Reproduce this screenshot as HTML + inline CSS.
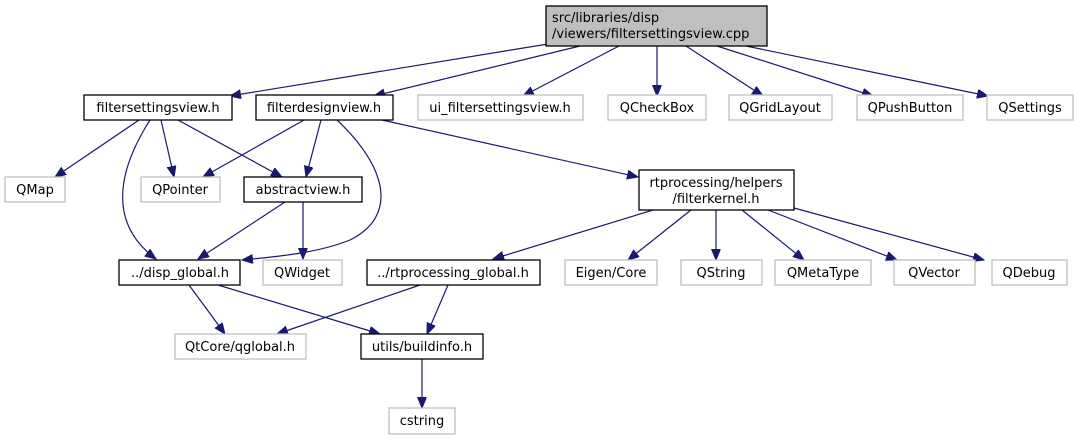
<!DOCTYPE html>
<html><head><meta charset="utf-8"><style>
html,body{margin:0;padding:0;background:#fff;}
svg{display:block;}
text{font-family:"DejaVu Sans","Liberation Sans",sans-serif;font-size:13px;fill:#000;}
.d{fill:#fff;stroke:#000;stroke-width:1.3;}
.g{fill:#fff;stroke:#bfbfbf;stroke-width:1.3;}
.e{fill:none;stroke:#191970;stroke-width:1.2;}
</style></head><body>
<svg width="1078" height="440" viewBox="0 0 1078 440" xmlns="http://www.w3.org/2000/svg">
<defs>
<marker id="a" markerWidth="12" markerHeight="10" refX="11" refY="4.5" orient="auto" markerUnits="userSpaceOnUse">
<path d="M0,0 L11,4.5 L0,9 Z" fill="#191970" stroke="#191970"/>
</marker>
</defs>
<g marker-end="url(#a)" class="e">
<path class="e" d="M548,44 L230,96"/>
<path class="e" d="M580,46 L374,96"/>
<path class="e" d="M619,46 L523,96"/>
<path class="e" d="M657,46 L657,96"/>
<path class="e" d="M686,46 L763,96"/>
<path class="e" d="M717,46 L873,96"/>
<path class="e" d="M746,46 L988,96"/>
<path class="e" d="M139,120 L55,177"/>
<path class="e" d="M150,120 C115,175 110,225 156,259"/>
<path class="e" d="M161,120 L174,177"/>
<path class="e" d="M178,120 L282,177"/>
<path class="e" d="M304,120 L203,177"/>
<path class="e" d="M321,120 L306,177"/>
<path class="e" d="M337,120 C385,165 400,215 350,240 C320,252 285,256 242,260"/>
<path class="e" d="M382,120 L638,177"/>
<path class="e" d="M285,202 L198,259"/>
<path class="e" d="M303,202 L303,259"/>
<path class="e" d="M653,210 L493,259"/>
<path class="e" d="M691,210 L628,260"/>
<path class="e" d="M716,210 L716,260"/>
<path class="e" d="M742,210 L804,260"/>
<path class="e" d="M768,210 L897,260"/>
<path class="e" d="M794,208 L984,260"/>
<path class="e" d="M189,285 L225,334"/>
<path class="e" d="M218,285 L380,334"/>
<path class="e" d="M420,285 L277,334"/>
<path class="e" d="M448,285 L427,334"/>
<path class="e" d="M422,359 L422,408"/>
</g>
<rect x="546" y="6" width="221" height="40" fill="#bfbfbf" stroke="#000" stroke-width="1.3"/>
<text x="552" y="22">src/libraries/disp</text>
<text x="552" y="38">/viewers/filtersettingsview.cpp</text>

<g text-anchor="middle">
<rect class="d" x="84" y="95" width="148" height="25"/><text x="158" y="112">filtersettingsview.h</text>
<rect class="d" x="256" y="95" width="137" height="25"/><text x="324" y="112">filterdesignview.h</text>
<rect class="g" x="418" y="95" width="165" height="25"/><text x="500" y="112">ui_filtersettingsview.h</text>
<rect class="g" x="608" y="95" width="98" height="25"/><text x="657" y="112">QCheckBox</text>
<rect class="g" x="729" y="95" width="103" height="25"/><text x="780" y="112">QGridLayout</text>
<rect class="g" x="857" y="95" width="106" height="25"/><text x="910" y="112">QPushButton</text>
<rect class="g" x="987" y="95" width="86" height="25"/><text x="1030" y="112">QSettings</text>

<rect class="g" x="5" y="177" width="60" height="25"/><text x="35" y="194">QMap</text>
<rect class="g" x="141" y="177" width="79" height="25"/><text x="180" y="194">QPointer</text>
<rect class="d" x="244" y="177" width="118" height="25"/><text x="303" y="194">abstractview.h</text>
<rect class="d" x="639" y="170" width="155" height="40"/><text x="716" y="187">rtprocessing/helpers</text><text x="716" y="203">/filterkernel.h</text>

<rect class="d" x="119" y="260" width="121" height="25"/><text x="180" y="277">../disp_global.h</text>
<rect class="g" x="263" y="260" width="79" height="25"/><text x="302" y="277">QWidget</text>
<rect class="d" x="367" y="260" width="173" height="25"/><text x="453" y="277">../rtprocessing_global.h</text>
<rect class="g" x="565" y="260" width="92" height="25"/><text x="611" y="277">Eigen/Core</text>
<rect class="g" x="681" y="260" width="81" height="25"/><text x="721" y="277">QString</text>
<rect class="g" x="775" y="260" width="96" height="25"/><text x="823" y="277">QMetaType</text>
<rect class="g" x="894" y="260" width="81" height="25"/><text x="934" y="277">QVector</text>
<rect class="g" x="992" y="260" width="75" height="25"/><text x="1029" y="277">QDebug</text>

<rect class="g" x="175" y="334" width="131" height="25"/><text x="240" y="351">QtCore/qglobal.h</text>
<rect class="d" x="361" y="334" width="122" height="25"/><text x="422" y="351">utils/buildinfo.h</text>

<rect class="g" x="389" y="408" width="66" height="26"/><text x="422" y="425">cstring</text>
</g>
</svg>
</body></html>
